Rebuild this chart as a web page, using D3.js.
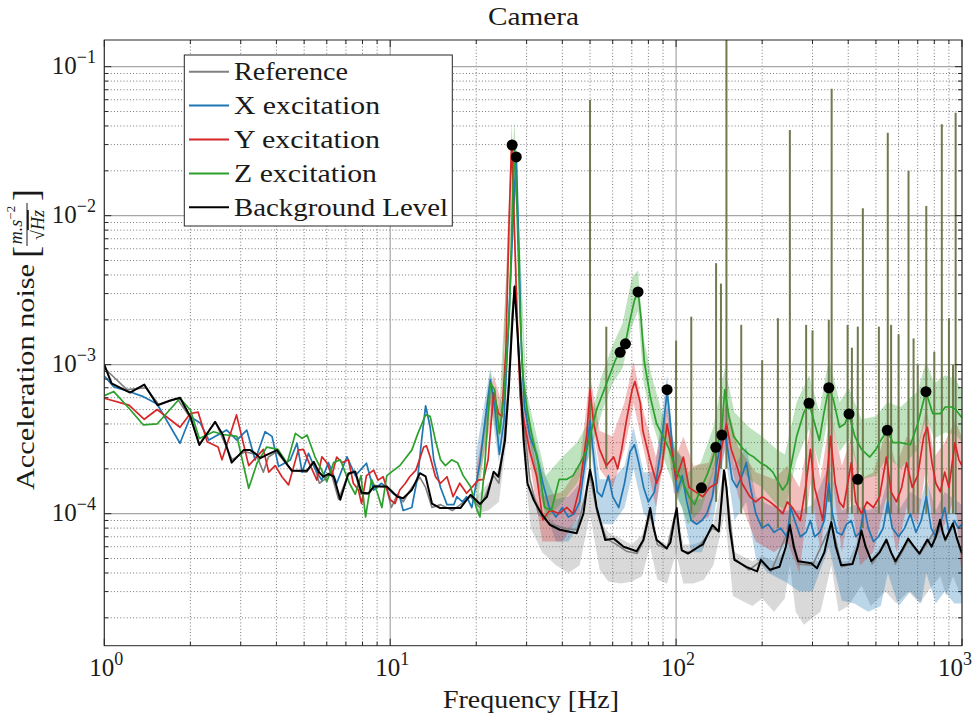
<!DOCTYPE html>
<html><head><meta charset="utf-8">
<script src="https://cdn.jsdelivr.net/npm/d3@7"></script>
<style>
body{margin:0;background:#fff}
svg{display:block}
</style>
</head><body>
<svg id="c" width="976" height="717" font-family="'Liberation Serif','DejaVu Serif','Noto Serif',serif"></svg>
<script>
// ---------------- DATA ----------------
const title = "Camera";
const xLabel = "Frequency [Hz]";
const xTicks = [1, 10, 100, 1000];
const xTickExp = ["0", "1", "2", "3"];
const yTicks = [1e-4, 1e-3, 1e-2, 1e-1];
const yTickExp = ["\u22124", "\u22123", "\u22122", "\u22121"];
const legendNames = ["Reference", "X excitation", "Y excitation", "Z excitation", "Background Level"];

// Background level (black)
const bgLevel = [[1,1.0e-3],[1.06,7.5e-4],[1.23,6.5e-4],[1.38,7.35e-4],[1.535,5.34e-4],[1.70,5.75e-4],[1.84,6.0e-4],[2.0,4.47e-4],[2.15,2.89e-4],[2.44,4.14e-4],[2.6,3.37e-4],[2.79,2.2e-4],[3.07,2.67e-4],[3.24,2.67e-4],[3.37,2.54e-4],[3.51,2.36e-4],[3.70,2.48e-4],[4.02,2.67e-4],[4.29,2.23e-4],[4.53,1.94e-4],[5.11,1.94e-4],[5.40,2.23e-4],[5.62,1.91e-4],[5.84,1.77e-4],[6.08,1.85e-4],[6.35,1.77e-4],[6.69,1.24e-4],[7.14,1.86e-4],[7.55,1.91e-4],[7.94,1.38e-4],[8.4,1.37e-4],[8.75,1.52e-4],[9.73,1.52e-4],[10.6,1.30e-4],[11.1,1.27e-4],[11.9,1.44e-4],[12.7,1.87e-4],[13.3,1.78e-4],[14.0,1.17e-4],[14.96,1.09e-4],[17.6,1.09e-4],[19.1,1.34e-4],[20.6,1.16e-4],[21.8,1.30e-4],[23.0,1.91e-4],[23.9,1.77e-4],[25.2,3.1e-4],[26.0,7e-4],[26.6,1.6e-3],[27.2,3.34e-3],[27.8,1.8e-3],[28.4,9e-4],[29.3,3.1e-4],[30.2,1.6e-4],[31.8,1.23e-4],[33.8,1.0e-4],[36.2,8.4e-5],[39.2,7.8e-5],[41.9,7.6e-5],[44.9,7.4e-5],[47.4,1.0e-4],[48.8,1.5e-4],[50,1.97e-4],[51.2,1.6e-4],[52.7,1.11e-4],[56.5,6.66e-5],[60.5,6.8e-5],[65.5,6.0e-5],[72.8,5.6e-5],[76.8,6.66e-5],[79,8.5e-5],[81.2,1.09e-4],[83.5,8e-5],[85.5,6.66e-5],[92.7,5.86e-5],[95.5,6.4e-5],[98.5,9e-5],[100.5,1.09e-4],[102.5,7.5e-5],[104.6,5.7e-5],[110,5.4e-5],[120,6.0e-5],[124,6.2e-5],[134,8.4e-5],[141,7.6e-5],[144,1.2e-4],[147,1.96e-4],[150,1.5e-4],[154,8e-5],[160,4.9e-5],[176,4.4e-5],[192,4.1e-5],[198,4.9e-5],[213,4.2e-5],[230,4.4e-5],[242,6e-5],[250,8.4e-5],[258,6e-5],[267,4.8e-5],[297,4.65e-5],[311,4.3e-5],[330,5.5e-5],[349,8.8e-5],[362,6e-5],[378,4.5e-5],[414,4.6e-5],[432,6e-5],[445,7.7e-5],[460,6e-5],[482,4.8e-5],[515,5.5e-5],[544,6.7e-5],[565,5.5e-5],[585,4.8e-5],[620,5.8e-5],[648,6.8e-5],[680,6e-5],[710,5.4e-5],[757,6.7e-5],[783,6.0e-5],[810,7e-5],[838,9.1e-5],[856,7.5e-5],[874,6.7e-5],[900,7.5e-5],[930,8.6e-5],[960,6.8e-5],[1000,5.4e-5]];

// Reference (gray) smoothed
const refLine = [[1,9.5e-4],[1.2,6.8e-4],[1.4,7.0e-4],[1.55,5.4e-4],[1.8,5.9e-4],[2.0,4.4e-4],[2.15,2.95e-4],[2.45,4.1e-4],[2.8,2.3e-4],[3.1,2.6e-4],[3.4,2.5e-4],[3.6,1.9e-4],[3.75,2.4e-4],[4.0,2.6e-4],[4.3,2.2e-4],[4.55,1.95e-4],[5.1,1.9e-4],[5.4,2.2e-4],[5.65,1.6e-4],[5.9,1.7e-4],[6.2,1.9e-4],[6.6,1.25e-4],[7.1,1.8e-4],[7.5,1.95e-4],[7.9,1.35e-4],[8.4,1.35e-4],[8.8,1.55e-4],[9.7,1.5e-4],[10.1,1.1e-4],[10.6,1.35e-4],[11.1,1.2e-4],[11.9,1.5e-4],[12.7,1.75e-4],[13.3,1.5e-4],[14,1.1e-4],[15,1.15e-4],[16.5,1.05e-4],[17.6,1.15e-4],[19.1,1.3e-4],[20.6,1.1e-4],[21.8,1.4e-4],[23,1.8e-4],[24,1.6e-4],[25,3e-4],[26,8e-4],[26.7,2.2e-3],[27.3,3.4e-3],[28,1.5e-3],[29,5e-4],[30.8,1.7e-4],[33,1.0e-4],[36,8.6e-5],[40,8e-5],[45,7.8e-5],[50,1.8e-4],[53,1.0e-4],[57,6.8e-5],[62,6.2e-5],[67,5.6e-5],[73,5.4e-5],[77,6.6e-5],[81,1.0e-4],[86,6.2e-5],[93,5.8e-5],[100,1.05e-4],[105,5.6e-5],[112,5.5e-5],[120,6.0e-5],[134,8.0e-5],[141,7.6e-5],[148,1.9e-4],[160,5.0e-5],[180,4.2e-5],[198,4.8e-5],[215,4.1e-5],[250,8.2e-5],[268,4.6e-5],[300,4.5e-5],[350,8.6e-5],[380,4.4e-5],[415,4.6e-5],[445,7.5e-5],[485,4.6e-5],[545,6.5e-5],[585,4.6e-5],[650,6.6e-5],[710,5.3e-5],[760,6.5e-5],[840,8.8e-5],[875,6.5e-5],[930,8.4e-5],[1000,5.3e-5]];

// X excitation (blue) smoothed
const xExc = [[1.0,8.4e-4],[1.08,7.1e-4],[1.22,6.6e-4],[1.37,6.1e-4],[1.53,5.45e-4],[1.84,2.97e-4],[2.0,4.47e-4],[2.17,4.04e-4],[2.32,3.12e-4],[2.68,3.64e-4],[2.91,3.12e-4],[3.15,3.64e-4],[3.37,2.29e-4],[3.65,3.55e-4],[3.86,3.3e-4],[4.07,2.07e-4],[4.47,2.29e-4],[4.72,2.97e-4],[4.92,1.9e-4],[5.18,2.54e-4],[5.46,2.0e-4],[5.76,1.68e-4],[6.08,2.2e-4],[6.5,1.6e-4],[7.06,2.41e-4],[7.55,1.8e-4],[8.26,2.18e-4],[8.75,1.44e-4],[9.3,1.6e-4],[9.73,1.5e-4],[10.3,1.35e-4],[10.8,1.30e-4],[11.1,1.05e-4],[11.9,1.1e-4],[12.5,1.8e-4],[12.9,3.2e-4],[13.3,5.3e-4],[13.8,3.8e-4],[14.2,2.3e-4],[15.0,1.5e-4],[15.8,1.15e-4],[16.7,1.15e-4],[17.1,1.3e-4],[17.9,1.2e-4],[18.5,1.3e-4],[19.3,1.1e-4],[20.6,2.2e-4],[21.4,4.0e-4],[22.4,7.9e-4],[23.2,5.2e-4],[24.1,2.5e-4],[25.0,4.2e-4],[26.0,2.0e-3],[26.8,8e-3],[27.6,2.6e-2],[28.2,6e-3],[28.8,1.2e-3],[29.5,5.2e-4],[30.8,3.3e-4],[32.5,2.5e-4],[34.2,1.6e-4],[36,1.1e-4],[38,9.5e-5],[40,1.1e-4],[42,9.5e-5],[44,1.0e-4],[46,1.2e-4],[48,2.2e-4],[50,4.2e-4],[51.5,2.4e-4],[53,1.4e-4],[55,1.3e-4],[58,1.8e-4],[60,1.3e-4],[63,1.1e-4],[66,1.6e-4],[69,2.6e-4],[71.5,2.9e-4],[74,2.2e-4],[77,1.5e-4],[80,1.2e-4],[84,1.4e-4],[88,2.5e-4],[91,4.5e-4],[93,6.6e-4],[95,4.5e-4],[98,2.2e-4],[101,1.4e-4],[105,1.8e-4],[109,1.2e-4],[113,9e-5],[118,8.5e-5],[123,9e-5],[128,1.0e-4],[134,1.3e-4],[139,2.2e-4],[144,3.1e-4],[148,3.6e-4],[152,2.6e-4],[157,1.7e-4],[163,1.5e-4],[170,1.8e-4],[176,2.2e-4],[182,1.5e-4],[190,1.0e-4],[200,8e-5],[210,8.5e-5],[220,7.5e-5],[232,8e-5],[244,7e-5],[252,1.1e-4],[260,9e-5],[272,7e-5],[285,7.5e-5],[295,9e-5],[305,7e-5],[318,7.5e-5],[330,9e-5],[342,1.6e-4],[352,1.0e-4],[365,7.5e-5],[380,7.2e-5],[395,8.5e-5],[410,9e-5],[425,7e-5],[440,7.5e-5],[455,1.1e-4],[470,8e-5],[490,6.5e-5],[510,7e-5],[530,8e-5],[550,1.2e-4],[570,8e-5],[600,7e-5],[630,8e-5],[660,1.0e-4],[690,7.5e-5],[720,9e-5],[750,1.3e-4],[780,8e-5],[810,7e-5],[840,8.5e-5],[870,1.1e-4],[900,7.5e-5],[940,9e-5],[970,8e-5],[1000,8.5e-5]];

// Y excitation (red) smoothed
const yExc = [[1.0,5.95e-4],[1.22,5.35e-4],[1.38,4.3e-4],[1.53,5.0e-4],[1.84,3.8e-4],[2.0,4.7e-4],[2.13,4.8e-4],[2.29,3.04e-4],[2.5,2.8e-4],[2.58,2.3e-4],[2.9,4.6e-4],[3.2,2.1e-4],[3.6,2.7e-4],[3.76,1.9e-4],[3.96,2.1e-4],[4.18,1.77e-4],[4.41,1.56e-4],[4.77,2.67e-4],[4.97,2.7e-4],[5.2,2.2e-4],[5.54,1.68e-4],[5.77,2.41e-4],[6.0,2.2e-4],[6.25,1.8e-4],[6.5,2.4e-4],[6.78,2.2e-4],[7.14,2.3e-4],[7.43,1.6e-4],[7.74,1.44e-4],[7.94,1.17e-4],[8.26,1.8e-4],[8.75,1.96e-4],[9.07,1.68e-4],[9.45,1.77e-4],[10,1.24e-4],[10.4,1.17e-4],[10.8,1.44e-4],[11.3,1.6e-4],[11.7,1.77e-4],[12.3,1.96e-4],[13.1,2.8e-4],[13.4,2.85e-4],[13.8,2.4e-4],[14.4,1.77e-4],[15.0,1.6e-4],[15.8,1.77e-4],[16.6,1.3e-4],[17.5,1.6e-4],[18.5,1.37e-4],[19.3,1.5e-4],[20.3,1.68e-4],[21.2,1.7e-4],[22.0,2.3e-4],[23.0,6.5e-4],[23.9,4.7e-4],[24.6,4.5e-4],[25.4,1.3e-3],[26.0,8e-3],[26.6,3.2e-2],[27.2,8e-3],[27.8,2e-3],[28.5,6e-4],[29.5,4e-4],[30.8,2.6e-4],[32.5,1.8e-4],[34.2,9.1e-5],[36.2,1.06e-4],[39,1.0e-4],[41.5,1.1e-4],[43.6,1.0e-4],[46,1.5e-4],[48.7,3.4e-4],[50,6.8e-4],[51.5,4.0e-4],[54,2.7e-4],[57,2.1e-4],[60.5,2.4e-4],[62.5,2.0e-4],[64.5,2.7e-4],[67,4.2e-4],[70.2,6.8e-4],[71.8,7.7e-4],[75,5.5e-4],[76.5,3.6e-4],[81,2.3e-4],[85.5,1.6e-4],[89,2.0e-4],[93,4.0e-4],[96.5,2.7e-4],[100,1.7e-4],[106,2.4e-4],[111,1.5e-4],[117,1.4e-4],[124,1.3e-4],[131,1.5e-4],[139,1.6e-4],[144,2.7e-4],[150,4.0e-4],[156,2.7e-4],[163,2.1e-4],[170,1.6e-4],[181,1.3e-4],[190,1.2e-4],[200,1.3e-4],[213,1.2e-4],[225,1.1e-4],[236,1.0e-4],[245,1.2e-4],[255,1.1e-4],[272,9e-5],[285,1.6e-4],[295,2.7e-4],[305,1.5e-4],[318,1.1e-4],[326,9e-5],[347,3.3e-4],[360,1.6e-4],[372,1.2e-4],[385,1.1e-4],[410,2.2e-4],[425,1.2e-4],[445,1.0e-4],[465,1.2e-4],[490,1.1e-4],[515,1.3e-4],[544,2.4e-4],[565,1.4e-4],[590,1.2e-4],[615,1.5e-4],[640,2.2e-4],[670,1.5e-4],[700,1.8e-4],[735,3.3e-4],[757,3.8e-4],[785,2.2e-4],[810,1.6e-4],[840,1.4e-4],[870,1.9e-4],[900,1.5e-4],[945,3.0e-4],[975,2.3e-4],[1000,2.1e-4]];

// Z excitation (green) smoothed
const zExc = [[1.0,6.2e-4],[1.08,6.6e-4],[1.22,5.1e-4],[1.37,3.94e-4],[1.53,4.0e-4],[1.84,5.95e-4],[2.0,4.96e-4],[2.15,3.2e-4],[2.41,3.55e-4],[2.6,3.4e-4],[2.91,3.3e-4],[3.2,1.48e-4],[3.42,2.18e-4],[3.7,2.8e-4],[4.05,2.7e-4],[4.36,2.18e-4],[4.66,3.46e-4],[4.92,3.2e-4],[5.12,3.37e-4],[5.46,2.4e-4],[5.76,1.96e-4],[6.0,1.64e-4],[6.34,2.2e-4],[6.69,2.3e-4],[7.2,1.6e-4],[7.55,1.35e-4],[7.9,1.8e-4],[8.2,9.5e-5],[8.6,1.7e-4],[9.0,1.4e-4],[9.35,1.1e-4],[9.73,1.8e-4],[10.3,1.96e-4],[10.8,2.1e-4],[11.4,2.4e-4],[11.9,2.67e-4],[12.5,3.46e-4],[13.3,4.6e-4],[13.8,4.5e-4],[14.4,3.1e-4],[15.0,2.3e-4],[15.6,2.1e-4],[16.4,2.3e-4],[17.2,2.2e-4],[18.0,1.8e-4],[19.1,1.52e-4],[20,1.1e-4],[20.6,9.5e-5],[21.4,2.07e-4],[22.4,7.5e-4],[23.2,6.8e-4],[24.1,3.46e-4],[25.0,6.1e-4],[26.1,2.2e-3],[26.7,1.0e-2],[27.2,3.0e-2],[27.8,1.0e-2],[28.5,2e-3],[29.2,8e-4],[30,5.2e-4],[31.2,3.46e-4],[32.9,2.2e-4],[34.7,1.1e-4],[36.6,1.05e-4],[39,1.7e-4],[41.5,1.7e-4],[43.6,1.8e-4],[46.3,2.2e-4],[48.7,2.7e-4],[50,3.3e-4],[52.7,5.0e-4],[55.4,6.4e-4],[58.3,8.3e-4],[61.3,1.07e-3],[63.7,1.25e-3],[66.5,1.4e-3],[69,2.0e-3],[71.5,2.7e-3],[73.6,3.1e-3],[75.3,2.1e-3],[77.4,1.05e-3],[81.2,6.1e-4],[85.5,4.0e-4],[90,3.3e-4],[94.6,2.7e-4],[100,1.96e-4],[106,1.6e-4],[111,1.3e-4],[116,1.15e-4],[122.6,1.5e-4],[128,1.8e-4],[133,2.2e-4],[137.7,2.8e-4],[144,3.4e-4],[148,6.8e-4],[153,4.5e-4],[159,3.3e-4],[165,3.0e-4],[172,2.7e-4],[180,2.5e-4],[187,2.4e-4],[197,2.2e-4],[208,2.07e-4],[218,1.9e-4],[225,1.7e-4],[236,1.44e-4],[245,1.6e-4],[252,2.07e-4],[264,3.3e-4],[280,4.8e-4],[292,5.5e-4],[305,4.05e-4],[317,3.1e-4],[328,4.6e-4],[342,7.0e-4],[355,5.8e-4],[373,3.8e-4],[389,4.0e-4],[402,4.7e-4],[422,3.3e-4],[445,2.7e-4],[476,2.4e-4],[500,2.7e-4],[525,3.2e-4],[548,3.6e-4],[573,3.0e-4],[610,3.0e-4],[660,2.9e-4],[700,4.0e-4],[748,6.6e-4],[790,4.7e-4],[840,4.7e-4],[874,5.2e-4],[920,5.2e-4],[950,5.0e-4],[1000,4.4e-4]];

// Raw-spectrum envelopes [f, low, high]
const refBand = [[20,1.0e-4,1.3e-4],[22,1.05e-4,1.6e-4],[24,1.2e-4,2.0e-4],[25.5,3e-4,5e-4],[27.2,2.8e-3,3.8e-3],[29,3e-4,5.5e-4],[31,8e-5,1.5e-4],[34,5.5e-5,1.05e-4],[38,4.5e-5,8.5e-5],[42,4e-5,8e-5],[46,4.5e-5,9.5e-5],[50,1.0e-4,2.2e-4],[54,4.2e-5,9e-5],[58,3.5e-5,7.5e-5],[64,3.4e-5,6.8e-5],[70,3.5e-5,6.2e-5],[76,3.8e-5,7.2e-5],[81,6e-5,1.15e-4],[86,3.6e-5,6.8e-5],[93,3.4e-5,6.2e-5],[100,5.5e-5,1.15e-4],[106,3.4e-5,6.2e-5],[115,3.4e-5,6.2e-5],[125,3.6e-5,6.6e-5],[135,4.5e-5,8.5e-5],[148,1.0e-4,2.1e-4],[158,2.8e-5,5.6e-5],[170,2.6e-5,5.2e-5],[185,2.4e-5,4.8e-5],[200,2.7e-5,5.2e-5],[220,2.2e-5,4.8e-5],[240,2.7e-5,5.6e-5],[250,4.5e-5,8.5e-5],[262,2.2e-5,5.2e-5],[280,1.8e-5,4.8e-5],[300,2.0e-5,4.8e-5],[320,2.2e-5,4.8e-5],[349,4.5e-5,9e-5],[370,2.2e-5,4.8e-5],[400,2.4e-5,4.8e-5],[445,3.3e-5,7.5e-5],[480,2.4e-5,5e-5],[540,3e-5,6.6e-5],[590,2.5e-5,4.8e-5],[650,3e-5,6.6e-5],[710,2.5e-5,5.2e-5],[760,3e-5,6.6e-5],[840,3.8e-5,9e-5],[880,2.8e-5,6.2e-5],[930,3.8e-5,8.5e-5],[1000,2.7e-5,5.2e-5]];
const xBand = [[20,1.6e-4,2.6e-4],[22.4,5.5e-4,9.5e-4],[24,2.2e-4,3.6e-4],[25.5,7e-4,1.3e-3],[27.6,2e-2,3.3e-2],[29,5.5e-4,1.0e-3],[31,2.4e-4,4e-4],[34,1.2e-4,2e-4],[38,6.5e-5,1.25e-4],[42,6.5e-5,1.3e-4],[46,8.5e-5,1.6e-4],[50,3e-4,5.2e-4],[54,8.5e-5,1.7e-4],[60,8.5e-5,1.7e-4],[66,1.1e-4,2.1e-4],[71,2e-4,3.8e-4],[77,1.0e-4,1.9e-4],[84,8.5e-5,1.9e-4],[93,4.8e-4,8.5e-4],[98,1.4e-4,2.8e-4],[105,1.1e-4,2.4e-4],[113,5.5e-5,1.25e-4],[123,5.5e-5,1.25e-4],[134,8.5e-5,1.9e-4],[148,2.6e-4,4.8e-4],[160,9e-5,2.1e-4],[176,1.2e-4,2.8e-4],[190,5e-5,1.3e-4],[210,4e-5,1.15e-4],[240,3.5e-5,1.05e-4],[270,3e-5,1.05e-4],[300,3e-5,1.15e-4],[342,6e-5,2.1e-4],[380,2.6e-5,1.05e-4],[420,2.5e-5,1.15e-4],[470,2.2e-5,1.05e-4],[520,2.4e-5,1.15e-4],[550,4e-5,1.7e-4],[600,2.4e-5,1.05e-4],[660,3e-5,1.4e-4],[720,2.5e-5,1.25e-4],[750,4e-5,1.7e-4],[810,2.5e-5,1.05e-4],[870,3e-5,1.4e-4],[940,2.5e-5,1.25e-4],[1000,2.5e-5,1.15e-4]];
const yBand = [[20,1.4e-4,2.0e-4],[23,5e-4,8.5e-4],[24.5,3.3e-4,5.6e-4],[26.6,2.4e-2,4.2e-2],[28.5,4.5e-4,8.5e-4],[31,2e-4,3.3e-4],[34,6.5e-5,1.3e-4],[40,6.5e-5,1.4e-4],[46,1.0e-4,2.1e-4],[50,5.2e-4,8.5e-4],[54,2e-4,3.6e-4],[60,1.5e-4,3.3e-4],[66,2.7e-4,5.6e-4],[71,5.5e-4,1.05e-3],[77,2.7e-4,4.8e-4],[85,1.1e-4,2.4e-4],[93,3e-4,5.2e-4],[100,1.2e-4,2.4e-4],[106,1.6e-4,3.3e-4],[115,8.5e-5,2.1e-4],[130,9.5e-5,2.2e-4],[150,3e-4,5.6e-4],[165,1.3e-4,2.8e-4],[190,6.5e-5,1.9e-4],[220,5.5e-5,1.7e-4],[245,6.5e-5,2.1e-4],[270,4e-5,1.5e-4],[295,1.6e-4,3.8e-4],[320,5.5e-5,1.7e-4],[347,2.1e-4,4.8e-4],[380,5.5e-5,2.1e-4],[410,1.3e-4,3.3e-4],[440,4.5e-5,1.7e-4],[490,5.5e-5,1.9e-4],[544,1.3e-4,3.6e-4],[590,5.5e-5,2.1e-4],[640,1.1e-4,3.3e-4],[700,8.5e-5,2.8e-4],[750,2.1e-4,5.2e-4],[800,6.5e-5,2.4e-4],[870,8.5e-5,3e-4],[945,1.3e-4,4.2e-4],[1000,3.5e-5,3.3e-4]];
const zBand = [[20,1.0e-4,1.5e-4],[22.4,5.5e-4,9e-4],[24,2.8e-4,4.5e-4],[27.2,2.2e-2,4.3e-2],[30,4e-4,6.5e-4],[35,9e-5,1.8e-4],[40,1.2e-4,2.4e-4],[45,1.6e-4,3e-4],[50,2.5e-4,4.3e-4],[55,4.8e-4,8.5e-4],[60,7.5e-4,1.35e-3],[65,9.5e-4,1.9e-3],[70,1.8e-3,3.8e-3],[73.6,2.3e-3,4.3e-3],[77,7.5e-4,1.5e-3],[82,4.3e-4,8.5e-4],[90,2.4e-4,4.5e-4],[100,1.4e-4,2.8e-4],[110,8.5e-5,1.9e-4],[122,1.05e-4,2.2e-4],[135,1.9e-4,3.8e-4],[148,4.8e-4,9.5e-4],[160,2.3e-4,4.8e-4],[180,1.7e-4,3.8e-4],[200,1.5e-4,3.3e-4],[225,1.15e-4,2.7e-4],[240,1.05e-4,2.5e-4],[264,2.3e-4,5.6e-4],[292,3.7e-4,8.5e-4],[317,2.1e-4,4.8e-4],[342,4.8e-4,1.1e-3],[373,2.6e-4,5.6e-4],[402,3.2e-4,7e-4],[445,1.7e-4,4.3e-4],[500,1.8e-4,4.5e-4],[548,2.4e-4,5.6e-4],[610,2e-4,5.2e-4],[700,2.7e-4,6.6e-4],[748,4.4e-4,1.05e-3],[800,3.2e-4,7.5e-4],[874,3.5e-4,8.5e-4],[950,3.4e-4,8e-4],[1000,3e-4,6.6e-4]];

// Mains harmonics spikes [f, bottom, top]
const spikes = [[50,2e-4,5.97e-2],[57,2e-4,1.8e-3],[100,1.1e-4,1.45e-3],[113,1e-4,2.1e-3],[138,1.2e-4,4.8e-3],[143.5,2e-4,3.5e-3],[150,2e-4,0.3],[169,1e-4,1.85e-3],[200,8e-5,1.07e-3],[227,8e-5,2.05e-3],[250,8e-5,3.76e-2],[285,1e-4,1.85e-3],[300,1e-4,1.7e-3],[342,1.2e-4,2.0e-3],[350,9e-5,7.1e-2],[398,1e-4,1.85e-3],[412,1e-4,1.3e-3],[432,1e-4,1.8e-3],[450,8e-5,1.12e-2],[512,1e-4,1.8e-3],[550,1e-4,3.6e-2],[565,1e-4,1.85e-3],[600,1e-4,1.6e-3],[650,1e-4,2.0e-2],[677,1e-4,1.5e-3],[700,1e-4,1.0e-3],[750,1e-4,1.16e-2],[800,1e-4,1.22e-3],[850,1e-4,4.1e-2],[900,1e-4,2.05e-3],[930,1e-4,1.0e-3],[950,1e-4,4.9e-2]];

// Identified resonance markers [f, value]
const peaks = [[26.7,2.98e-2],[27.6,2.48e-2],[63.7,1.21e-3],[66.5,1.38e-3],[73.6,3.08e-3],[93.0,6.8e-4],[122.6,1.49e-4],[137.7,2.79e-4],[144.5,3.37e-4],[291.7,5.51e-4],[342,7.0e-4],[402.6,4.67e-4],[431.8,1.70e-4],[548,3.63e-4],[748,6.59e-4]];

// ---------------- DRAWING ----------------
const colors = {ref:"#808080", x:"#1f77b4", y:"#d62728", z:"#2ca02c", bg:"#000000"};
const txtCol = "#1a1a1a";
const L = 104.3, R = 962, T = 40, B = 645.7;
const svg = d3.select("#c");
const xS = d3.scaleLog().domain([1, 1000]).range([L, R]);
const yS = d3.scaleLog().domain([1.30e-5, 0.151]).range([B, T]);

svg.append("defs").append("clipPath").attr("id","clip")
  .append("rect").attr("x",L).attr("y",T).attr("width",R-L).attr("height",B-T);

// grid
const grid = svg.append("g");
const xMinor = [], yMinor = [];
[1,10,100].forEach(d => { for (let k=2;k<=9;k++) xMinor.push(k*d); });
[1e-5,1e-4,1e-3,1e-2,1e-1].forEach(d => { for (let k=2;k<=9;k++){ const v=k*d; if (v>=1.30e-5 && v<=0.151) yMinor.push(v);} });
grid.selectAll(".xm").data(xMinor).join("line")
  .attr("x1",d=>xS(d)).attr("x2",d=>xS(d)).attr("y1",T).attr("y2",B)
  .attr("stroke","#555").attr("stroke-width",0.8).attr("stroke-dasharray","1,2.2");
grid.selectAll(".ym").data(yMinor).join("line")
  .attr("y1",d=>yS(d)).attr("y2",d=>yS(d)).attr("x1",L).attr("x2",R)
  .attr("stroke","#555").attr("stroke-width",0.8).attr("stroke-dasharray","1,2.2");
grid.selectAll(".xM").data(xTicks).join("line")
  .attr("x1",d=>xS(d)).attr("x2",d=>xS(d)).attr("y1",T).attr("y2",B)
  .attr("stroke","#a6a6a6").attr("stroke-width",1.2);
grid.selectAll(".yM").data(yTicks).join("line")
  .attr("y1",d=>yS(d)).attr("y2",d=>yS(d)).attr("x1",L).attr("x2",R)
  .attr("stroke","#a6a6a6").attr("stroke-width",1.2);

const plot = svg.append("g").attr("clip-path","url(#clip)");
const area = d3.area().x(d=>xS(d[0])).y0(d=>yS(d[1])).y1(d=>yS(d[2]));
const line = d3.line().x(d=>xS(d[0])).y(d=>yS(d[1]));

[[refBand,colors.ref,0.3],[xBand,colors.x,0.3],[yBand,colors.y,0.3],[zBand,colors.z,0.3]].forEach(([b,c,o])=>{
  plot.append("path").datum(b).attr("d",area).attr("fill",c).attr("fill-opacity",o);
});

plot.selectAll(".spike").data(spikes).join("line")
  .attr("x1",d=>xS(d[0])).attr("x2",d=>xS(d[0]))
  .attr("y1",d=>yS(d[1])).attr("y2",d=>yS(d[2]))
  .attr("stroke","#6f7a4f").attr("stroke-width",2);

[[refLine,colors.ref,1.6],[xExc,colors.x,1.7],[yExc,colors.y,1.7],[zExc,colors.z,1.7],[bgLevel,colors.bg,2.0]].forEach(([d,c,w])=>{
  plot.append("path").datum(d).attr("d",line).attr("fill","none").attr("stroke",c).attr("stroke-width",w).attr("stroke-linejoin","round");
});

plot.selectAll(".pk").data(peaks).join("circle")
  .attr("cx",d=>xS(d[0])).attr("cy",d=>yS(d[1])).attr("r",5.5).attr("fill","#000");

// axes box and ticks
const ax = svg.append("g").attr("stroke","#262626").attr("stroke-width",1);
ax.append("rect").attr("x",L).attr("y",T).attr("width",R-L).attr("height",B-T).attr("fill","none");
const allX = xTicks.map(v=>[v,7]).concat(xMinor.map(v=>[v,4]));
const allY = yTicks.map(v=>[v,7]).concat(yMinor.map(v=>[v,4]));
allX.forEach(([v,len])=>{
  ax.append("line").attr("x1",xS(v)).attr("x2",xS(v)).attr("y1",B).attr("y2",B-len);
  ax.append("line").attr("x1",xS(v)).attr("x2",xS(v)).attr("y1",T).attr("y2",T+len);
});
allY.forEach(([v,len])=>{
  ax.append("line").attr("y1",yS(v)).attr("y2",yS(v)).attr("x1",L).attr("x2",L+len);
  ax.append("line").attr("y1",yS(v)).attr("y2",yS(v)).attr("x1",R).attr("x2",R-len);
});

// tick labels
xTicks.forEach((v,i)=>{
  const cx = Math.min(xS(v)+2, 955);
  const t = svg.append("text").attr("x",cx).attr("y",676).attr("text-anchor","middle").attr("font-size",25).attr("fill",txtCol);
  t.append("tspan").text("10");
  t.append("tspan").attr("dy",-11).attr("font-size",18).text(xTickExp[i]);
});
yTicks.forEach((v,i)=>{
  const t = svg.append("text").attr("x",96).attr("y",yS(v)+7).attr("text-anchor","end").attr("font-size",25).attr("fill",txtCol);
  t.append("tspan").text("10");
  t.append("tspan").attr("dy",-11).attr("font-size",18).text(yTickExp[i]);
});

// title & labels
svg.append("text").attr("x",533.5).attr("y",25).attr("text-anchor","middle").attr("font-size",25).attr("fill",txtCol)
  .attr("textLength",91).attr("lengthAdjust","spacingAndGlyphs").text(title);
svg.append("text").attr("x",531).attr("y",708).attr("text-anchor","middle").attr("font-size",26).attr("fill",txtCol)
  .attr("textLength",176).attr("lengthAdjust","spacingAndGlyphs").text(xLabel);

const yl = svg.append("g").attr("transform","translate(34,343) rotate(-90)").attr("fill",txtCol);
yl.append("text").attr("x",-147).attr("y",0).attr("font-size",26).attr("textLength",226).attr("lengthAdjust","spacingAndGlyphs").text("Acceleration noise");
yl.append("text").attr("x",85).attr("y",4).attr("font-size",36).text("[");
const num = yl.append("text").attr("x",118).attr("y",-12).attr("text-anchor","middle").attr("font-size",18);
num.append("tspan").attr("font-style","italic").text("m.s");
num.append("tspan").attr("dy",-7).attr("font-size",13).text("\u22122");
yl.append("line").attr("x1",97).attr("x2",140).attr("y1",-7).attr("y2",-7).attr("stroke",txtCol).attr("stroke-width",1);
const den = yl.append("text").attr("x",118).attr("y",10).attr("text-anchor","middle").attr("font-size",18);
den.append("tspan").text("\u221A");
den.append("tspan").attr("font-style","italic").attr("text-decoration","overline").text("Hz");
yl.append("text").attr("x",142).attr("y",4).attr("font-size",36).text("]");

// legend
const lg = svg.append("g");
lg.append("rect").attr("x",184.3).attr("y",55).attr("width",268).attr("height",171).attr("fill","#fff").attr("stroke","#262626").attr("stroke-width",1);
const lgCol = [colors.ref, colors.x, colors.y, colors.z, colors.bg];
const lgW = [114, 146, 146, 143, 214];
legendNames.forEach((n,i)=>{
  const yy = 71.7 + i*33.9;
  lg.append("line").attr("x1",189).attr("x2",229).attr("y1",yy).attr("y2",yy).attr("stroke",lgCol[i]).attr("stroke-width",2);
  lg.append("text").attr("x",234).attr("y",yy+8.5).attr("font-size",25).attr("fill",txtCol).attr("textLength",lgW[i]).attr("lengthAdjust","spacingAndGlyphs").text(n);
});
</script>
</body></html>
